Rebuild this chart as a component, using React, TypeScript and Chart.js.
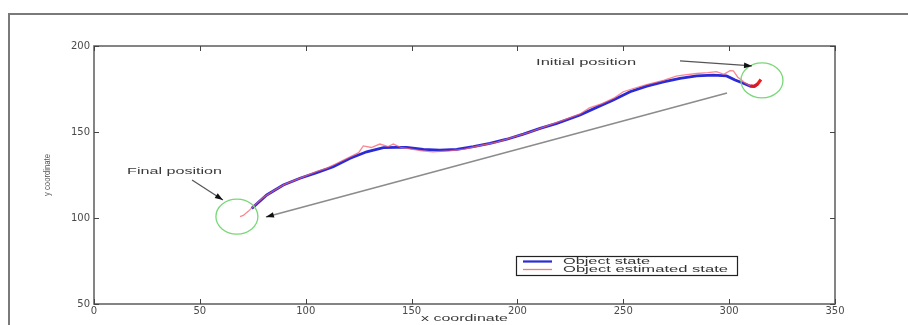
import React, { useEffect, useRef } from "react";
import { Chart, registerables } from "chart.js";

Chart.register(...registerables);

// ---- data ----
const xTicks = [0, 50, 100, 150, 200, 250, 300, 350];
const yTicks = [50, 100, 150, 200];

const truthX = [313.5, 311.5, 309.9, 306.7, 302.8, 298.8, 292.5, 284.7, 276.8, 269, 261.1, 253.2, 245.3, 237.4, 229.6, 218.6, 210.7, 202.8, 195, 187, 179.2, 171.3, 163.4, 155.6, 147.7, 143, 136.7, 128.8, 121, 113, 105.2, 97.3, 89.4, 81.6, 74.5];
const truthY = [177.8, 176.5, 176.7, 178.3, 180.2, 182.6, 183.1, 182.6, 181.2, 179.2, 176.7, 173.4, 168.6, 164.3, 159.9, 155, 152.1, 148.8, 145.8, 143.4, 141.5, 139.9, 139.5, 139.9, 141.1, 141.1, 140.9, 138.5, 134.7, 129.8, 126.4, 123.1, 119.2, 113.4, 105.6];

const estX = [315, 313.5, 312, 310, 307, 304, 302, 300.4, 297.5, 294, 290, 284.7, 279, 275, 269, 261, 254, 250, 246, 240, 234, 229.6, 222, 214, 206, 198, 190, 182, 175, 168, 160, 155, 150, 145, 141.4, 139, 135, 131, 127.2, 125, 120, 115, 110, 105, 100, 95, 90, 85, 80, 76, 73, 70.5, 69];
const estY = [180.5, 178, 176.5, 176.8, 179, 182, 185.5, 185.7, 183.5, 185.1, 184.5, 184, 183.2, 182.5, 180, 177.5, 175, 173.4, 170, 166.5, 164, 160.5, 157, 153.5, 150, 147, 144, 142, 140, 139, 138.5, 139, 140, 141, 143, 141.5, 143, 141, 141.9, 138, 135, 132, 129, 127, 124.5, 122, 119.5, 116, 112, 107.5, 104, 101.5, 100.8];

const seriesLabels = ["Object state", "Object estimated state"];

// annotation anchors in data units
const circleCenters = [
  [67.5, 100.8],
  [315.5, 180],
];
const arrowLines = [
  [276.8, 191.3, 310.8, 188.4],
  [46.3, 122.1, 60.9, 110.5],
  [299, 172.7, 81.2, 100.6],
];
const annotationTexts = ["Initial position", "Final position"];
const annotationAnchors = [
  [208.8, 190.7],
  [15.6, 127.3],
];

const FONT = '"Liberation Sans", Arial, sans-serif';

function drawFitted(ctx: CanvasRenderingContext2D, text: string, x: number, y: number, width: number, size: number, color: string, align: "left" | "center" = "left") {
  ctx.save();
  ctx.font = `${size}px ${FONT}`;
  ctx.fillStyle = color;
  ctx.textBaseline = "middle";
  const m = ctx.measureText(text).width;
  const sx = width / m;
  ctx.translate(x, y);
  ctx.scale(sx, 1);
  ctx.textAlign = align;
  ctx.fillText(text, 0, 0);
  ctx.restore();
}

function arrowHead(ctx: CanvasRenderingContext2D, x0: number, y0: number, x1: number, y1: number) {
  const a = Math.atan2(y1 - y0, x1 - x0);
  const L = 8, W = 2.8;
  ctx.save();
  ctx.fillStyle = "#111";
  ctx.beginPath();
  ctx.moveTo(x1, y1);
  ctx.lineTo(x1 - L * Math.cos(a) + W * Math.sin(a), y1 - L * Math.sin(a) - W * Math.cos(a));
  ctx.lineTo(x1 - L * Math.cos(a) - W * Math.sin(a), y1 - L * Math.sin(a) + W * Math.cos(a));
  ctx.closePath();
  ctx.fill();
  ctx.restore();
}

const decorPlugin = {
  id: "decor",
  beforeDraw(chart: any) {
    const ctx = chart.ctx as CanvasRenderingContext2D;
    ctx.save();
    ctx.fillStyle = "#fff";
    ctx.fillRect(0, 0, chart.width, chart.height);
    ctx.strokeStyle = "#7a7a7a";
    ctx.lineWidth = 2;
    ctx.strokeRect(9, 14, chart.width + 10, chart.height + 10);
    ctx.restore();
  },
  afterDatasetsDraw(chart: any) {
    const ctx = chart.ctx as CanvasRenderingContext2D;
    const xs = chart.scales.x, ys = chart.scales.y;
    const a = chart.chartArea;
    const px = (v: number) => xs.getPixelForValue(v);
    const py = (v: number) => ys.getPixelForValue(v);

    // box
    ctx.save();
    ctx.strokeStyle = "#666";
    ctx.lineWidth = 1.6;
    ctx.strokeRect(a.left, a.top, a.right - a.left, a.bottom - a.top);
    // inward ticks
    ctx.strokeStyle = "#444";
    ctx.lineWidth = 1;
    ctx.beginPath();
    xTicks.forEach((t) => {
      const x = Math.round(px(t)) + 0.5;
      ctx.moveTo(x, a.bottom); ctx.lineTo(x, a.bottom - 5);
      ctx.moveTo(x, a.top); ctx.lineTo(x, a.top + 5);
    });
    yTicks.forEach((t) => {
      const y = Math.round(py(t)) + 0.5;
      ctx.moveTo(a.left, y); ctx.lineTo(a.left + 5, y);
      ctx.moveTo(a.right, y); ctx.lineTo(a.right - 5, y);
    });
    ctx.stroke();

    // green circles
    ctx.strokeStyle = "#78d878";
    ctx.lineWidth = 1.3;
    circleCenters.forEach(([cx, cy]) => {
      ctx.beginPath();
      ctx.ellipse(px(cx), py(cy), 21, 17.5, 0, 0, Math.PI * 2);
      ctx.stroke();
    });

    // arrows
    arrowLines.forEach(([x0, y0, x1, y1], i) => {
      const X0 = px(x0), Y0 = py(y0), X1 = px(x1), Y1 = py(y1);
      ctx.strokeStyle = i === 2 ? "#8c8c8c" : "#555";
      ctx.lineWidth = i === 2 ? 1.7 : 1.2;
      ctx.beginPath();
      ctx.moveTo(X0, Y0);
      ctx.lineTo(X1, Y1);
      ctx.stroke();
      arrowHead(ctx, X0, Y0, X1, Y1);
    });

    // annotation texts
    drawFitted(ctx, annotationTexts[0], px(annotationAnchors[0][0]), py(annotationAnchors[0][1]), 100, 9.5, "#3a3a3a");
    drawFitted(ctx, annotationTexts[1], px(annotationAnchors[1][0]), py(annotationAnchors[1][1]), 95, 9.5, "#3a3a3a");

    // legend
    const lx = 516, ly = 256, lw = 221, lh = 19;
    ctx.fillStyle = "#fff";
    ctx.fillRect(lx, ly, lw, lh);
    ctx.strokeStyle = "#222";
    ctx.lineWidth = 1.2;
    ctx.strokeRect(lx + 0.5, ly + 0.5, lw, lh);
    const rows = [
      { c: "#2b2bd6", w: 2.2, y: ly + 5.5, t: seriesLabels[0], tw: 87 },
      { c: "#f27a7a", w: 1.3, y: ly + 13.5, t: seriesLabels[1], tw: 165 },
    ];
    rows.forEach((r) => {
      ctx.strokeStyle = r.c;
      ctx.lineWidth = r.w;
      ctx.beginPath();
      ctx.moveTo(lx + 7, r.y);
      ctx.lineTo(lx + 36, r.y);
      ctx.stroke();
      drawFitted(ctx, r.t, lx + 47, r.y, r.tw, 9.5, "#333");
    });

    // axis titles
    drawFitted(ctx, "x coordinate", (a.left + a.right) / 2, 318, 87, 9.5, "#3a3a3a", "center");
    ctx.save();
    ctx.translate(48, (a.top + a.bottom) / 2);
    ctx.rotate(-Math.PI / 2);
    drawFitted(ctx, "y coordinate", 0, 0, 42, 8.5, "#555", "center");
    ctx.restore();
    ctx.restore();
  },
};

export default function App() {
  const ref = useRef<HTMLCanvasElement | null>(null);
  useEffect(() => {
    document.body.style.margin = "0";
    const canvas = ref.current!;
    const chart = new Chart(canvas, {
      type: "scatter",
      data: {
        datasets: [
          {
            label: seriesLabels[0],
            data: truthX.map((x, i) => ({ x, y: truthY[i] })),
            showLine: true,
            borderColor: "#2b2bd6",
            borderWidth: 2.8,
            pointRadius: 0,
            tension: 0,
            order: 1,
          },
          {
            label: seriesLabels[1],
            data: estX.map((x, i) => ({ x, y: estY[i] })),
            showLine: true,
            borderColor: "rgba(245,95,110,0.75)",
            borderWidth: 1.3,
            pointRadius: 0,
            tension: 0,
            order: 0,
            segment: {
              borderWidth: (c: any) => (c.p0DataIndex < 3 ? 3.2 : 1.3),
              borderColor: (c: any) => (c.p0DataIndex < 3 ? "rgba(235,20,20,0.95)" : "rgba(245,95,110,0.75)"),
            },
          } as any,
        ],
      },
      options: {
        animation: false,
        responsive: false,
        maintainAspectRatio: false,
        layout: { padding: { top: 46, right: 73, left: 0, bottom: 0 } },
        plugins: { legend: { display: false }, tooltip: { enabled: false }, title: { display: false } },
        scales: {
          x: {
            type: "linear",
            min: 0,
            max: 350,
            afterBuildTicks: (s: any) => { s.ticks = xTicks.map((v) => ({ value: v })); },
            afterFit: (s: any) => { s.height = 21; },
            grid: { display: false, drawTicks: false },
            border: { display: false },
            ticks: { padding: 1, color: "#4a4a4a", font: { family: "DejaVu Sans", size: 10 }, maxRotation: 0 },
          },
          y: {
            type: "linear",
            min: 50,
            max: 200,
            afterBuildTicks: (s: any) => { s.ticks = yTicks.map((v) => ({ value: v })); },
            afterFit: (s: any) => { s.width = 94; },
            grid: { display: false, drawTicks: false },
            border: { display: false },
            ticks: { padding: 4, color: "#4a4a4a", font: { family: "DejaVu Sans", size: 10 } },
          },
        },
      },
      plugins: [decorPlugin],
    });
    return () => chart.destroy();
  }, []);
  return <canvas ref={ref} width={908} height={325} style={{ display: "block", width: 908, height: 325 }} />;
}
